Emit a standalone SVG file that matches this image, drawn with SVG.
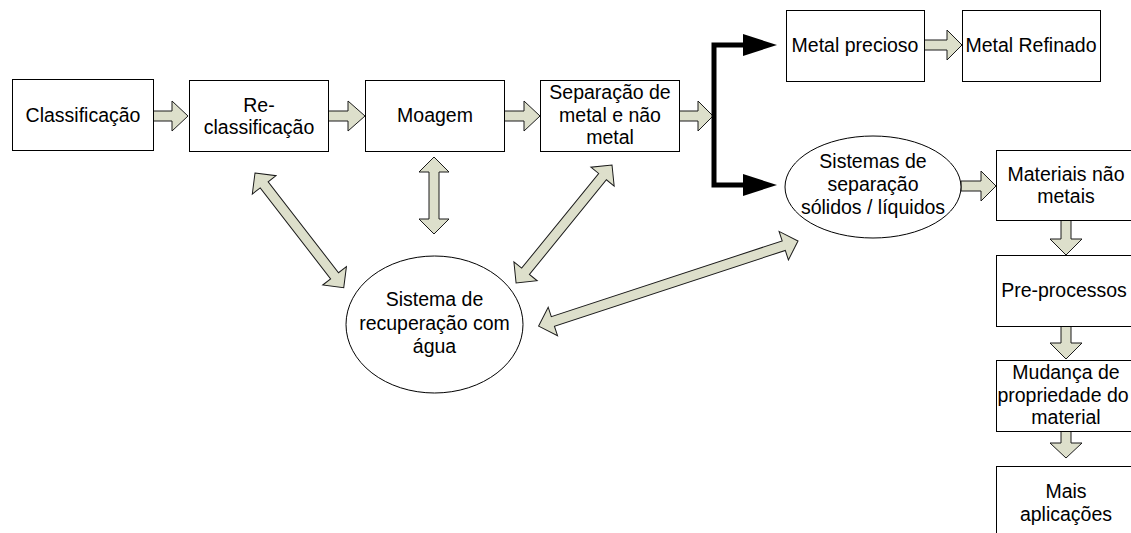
<svg xmlns="http://www.w3.org/2000/svg" width="1131" height="533" viewBox="0 0 1131 533">
<style>
.box{fill:#fff;stroke:#000;stroke-width:1}
.ell{fill:#fff;stroke:#000;stroke-width:1}
.t{font-family:"Liberation Sans",Arial,sans-serif;font-size:19.5px;fill:#000;text-anchor:middle}
.ba{fill:#dddfcb;stroke:#1a1a1a;stroke-width:1;stroke-linejoin:miter}
.blk{fill:none;stroke:#000;stroke-width:5}
.bh{fill:#000}
</style>
<rect width="1131" height="533" fill="#fff"/>
<g id="connectors">
<polygon class="ba" points="153,111 172,111 172,101 188,116 172,131 172,121 153,121"/>
<polygon class="ba" points="328,111 348,111 348,101 365,116 348,131 348,121 328,121"/>
<polygon class="ba" points="504,111 524,111 524,101 540,116 524,131 524,121 504,121"/>
<polygon class="ba" points="679,111 698,111 698,101 713,116 698,131 698,121 679,121"/>
<polygon class="ba" points="924,40 947,40 947,30 962,45 947,60 947,50 924,50"/>
<polygon class="ba" points="961,181 981,181 981,171 996,186 981,201 981,191 961,191"/>
<polygon class="ba" points="1061,220 1061,239 1050,239 1066,255 1082,239 1071,239 1071,220"/>
<polygon class="ba" points="1061,326 1061,343 1050,343 1066,359 1082,343 1071,343 1071,326"/>
<polygon class="ba" points="1061,431 1061,443 1050,443 1066,458 1082,443 1071,443 1071,431"/>
<polygon class="ba" transform="translate(255,173) rotate(52.26)" points="0,0 15,-15 15,-5 130,-5 130,-15 145,0 130,15 130,5 15,5 15,15"/>
<polygon class="ba" transform="translate(434,157) rotate(90)" points="0,0 15,-15 15,-5 62,-5 62,-15 77,0 62,15 62,5 15,5 15,15"/>
<polygon class="ba" transform="translate(612,165) rotate(129.13)" points="0,0 15,-15 15,-5 137,-5 137,-15 152,0 137,15 137,5 15,5 15,15"/>
<polygon class="ba" transform="translate(798,241) rotate(161.83)" points="0,0 15,-15 15,-5 258,-5 258,-15 273,0 258,15 258,5 15,5 15,15"/>
<path class="blk" d="M745,45 H714 V185 H745"/>
<polygon class="bh" points="743,34 777,45 743,56"/>
<polygon class="bh" points="743,174 777,185 743,196"/>
</g>
<g id="classificacao">
<rect class="box" x="12.5" y="79.5" width="141" height="71"/>
<text class="t" x="83" y="122">Classificação</text>
</g>
<g id="reclassificacao">
<rect class="box" x="189.5" y="80.5" width="139" height="71"/>
<text class="t" x="259" y="112">Re-</text>
<text class="t" x="259" y="134">classificação</text>
</g>
<g id="moagem">
<rect class="box" x="365.5" y="80.5" width="139" height="71"/>
<text class="t" x="435" y="122">Moagem</text>
</g>
<g id="separacao">
<rect class="box" x="540.5" y="80.5" width="139" height="71"/>
<text class="t" x="610" y="99">Separação de</text>
<text class="t" x="610" y="122">metal e não</text>
<text class="t" x="610" y="144">metal</text>
</g>
<g id="metal-precioso">
<rect class="box" x="786.5" y="10.5" width="138" height="71"/>
<text class="t" x="855" y="52">Metal precioso</text>
</g>
<g id="metal-refinado">
<rect class="box" x="962.5" y="10.5" width="138" height="71"/>
<text class="t" x="1031" y="52">Metal Refinado</text>
</g>
<g id="sistemas-separacao">
<ellipse class="ell" cx="873" cy="187" rx="88" ry="51"/>
<text class="t" x="873" y="168">Sistemas de</text>
<text class="t" x="873" y="191">separação</text>
<text class="t" x="873" y="214">sólidos / líquidos</text>
</g>
<g id="recuperacao">
<ellipse class="ell" cx="434.5" cy="324.5" rx="88.5" ry="68.5"/>
<text class="t" x="434.5" y="306">Sistema de</text>
<text class="t" x="434.5" y="330">recuperação com</text>
<text class="t" x="434.5" y="353">água</text>
</g>
<g id="materiais-nao-metais">
<rect class="box" x="996.5" y="150.5" width="140" height="70"/>
<text class="t" x="1066" y="181">Materiais não</text>
<text class="t" x="1066" y="203">metais</text>
</g>
<g id="pre-processos">
<rect class="box" x="996.5" y="255.5" width="140" height="71"/>
<text class="t" x="1064" y="297">Pre-processos</text>
</g>
<g id="mudanca">
<rect class="box" x="996.5" y="360.5" width="140" height="71"/>
<text class="t" x="1066" y="379">Mudança de</text>
<text class="t" x="1063" y="402">propriedade do</text>
<text class="t" x="1066" y="424">material</text>
</g>
<g id="mais-aplicacoes">
<rect class="box" x="996.5" y="466.5" width="140" height="71"/>
<text class="t" x="1066" y="498">Mais</text>
<text class="t" x="1066" y="521">aplicações</text>
</g>
</svg>
